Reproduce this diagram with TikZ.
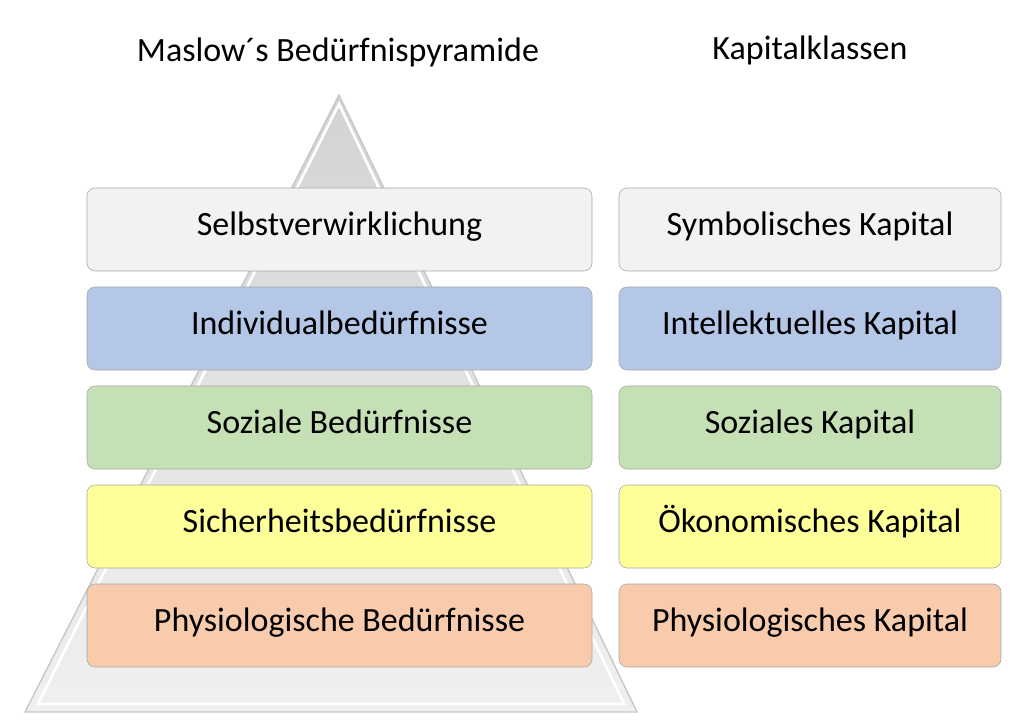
\documentclass[tikz,border=0pt]{standalone}
\usepackage{fontspec}
\setmainfont{Carlito}
\usetikzlibrary{shadings}
\definecolor{cgray}{HTML}{F2F2F2}
\definecolor{cblue}{HTML}{B4C7E7}
\definecolor{cgreen}{HTML}{C5E0B4}
\definecolor{cyellow}{HTML}{FFFF99}
\definecolor{corange}{HTML}{F8CBAD}
\begin{document}
\begin{tikzpicture}[x=0.75pt,y=-0.75pt,
 box/.style={draw=gray!70,rounded corners=6pt,minimum height=62.25pt,inner sep=0pt,text height=13pt,text depth=4pt,font=\fontsize{25.5}{28}\selectfont},
 lb/.style={box,minimum width=378.75pt},
 rb/.style={box,minimum width=286.5pt},
 ttl/.style={font=\fontsize{25.5}{28}\selectfont}]
\useasboundingbox (0,0) rectangle (1024,727);
\path[draw=gray!45,line width=1pt,top color=gray!35,bottom color=gray!12,middle color=gray!22] (339,95) -- (637,712) -- (25,712) -- cycle;
\draw[white,line width=2pt] (339,104) -- (624,704) -- (38,704) -- cycle;
\node[ttl] (t1) at (338,52) {Maslow´s Bedürfnispyramide};
\node[ttl] (t2) at (810,50) {Kapitalklassen};
\foreach \n/\y/\c/\l/\r in {a/229.5/cgray/Selbstverwirklichung/Symbolisches Kapital,
 b/328.5/cblue/Individualbedürfnisse/Intellektuelles Kapital,
 c/427.5/cgreen/Soziale Bedürfnisse/Soziales Kapital,
 d/526.5/cyellow/Sicherheitsbedürfnisse/Ökonomisches Kapital,
 e/625.5/corange/Physiologische Bedürfnisse/Physiologisches Kapital}{
 \node[lb,fill=\c] (l\n) at (339.5,\y) {\l};
 \node[rb,fill=\c] (r\n) at (810,\y) {\r};
}
\end{tikzpicture}
\end{document}
